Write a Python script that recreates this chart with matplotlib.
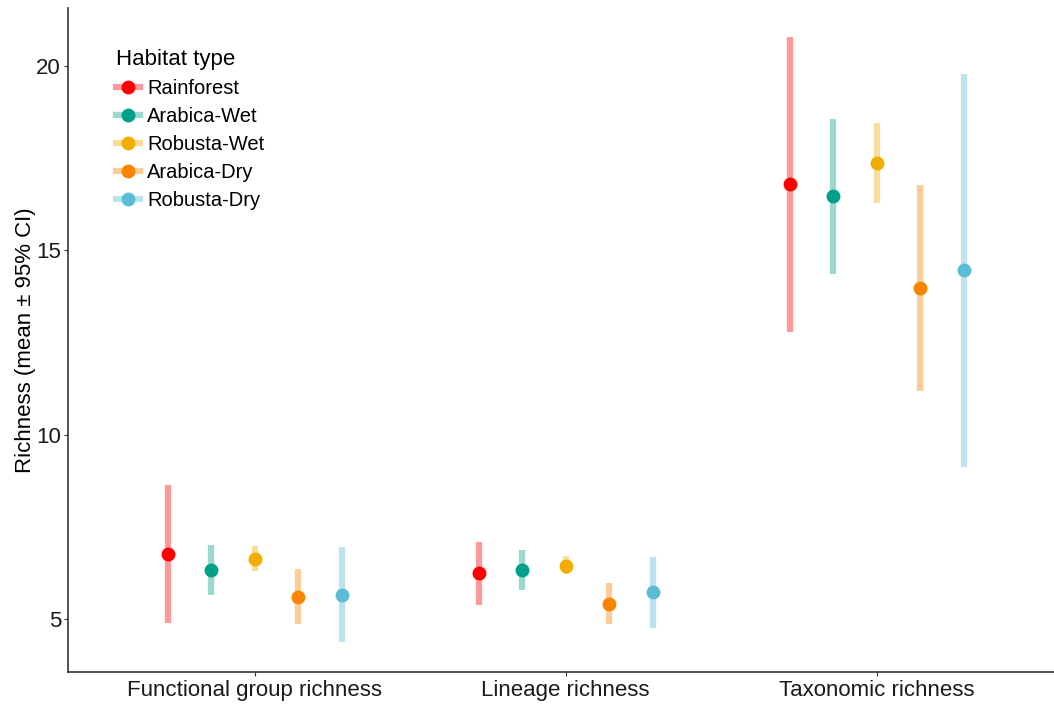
import numpy as np
import matplotlib
matplotlib.use("Agg")
import matplotlib.pyplot as plt
from matplotlib.lines import Line2D

plt.rcParams['font.family'] = ['Liberation Sans', 'DejaVu Sans']

metrics = ["Functional group richness", "Lineage richness", "Taxonomic richness"]
habitats = ["Rainforest", "Arabica-Wet", "Robusta-Wet", "Arabica-Dry", "Robusta-Dry"]
colors = ["#FF0000", "#00A08A", "#F2AD00", "#F98400", "#5BBCD6"]

# mean, lower and upper 95% CI per habitat, one entry per metric
rainforest_mean = [6.76, 6.24, 16.80]
rainforest_lo = [4.88, 5.38, 12.79]
rainforest_hi = [8.64, 7.08, 20.80]

arabica_wet_mean = [6.33, 6.33, 16.47]
arabica_wet_lo = [5.65, 5.79, 14.37]
arabica_wet_hi = [7.00, 6.86, 18.57]

robusta_wet_mean = [6.64, 6.45, 17.38]
robusta_wet_lo = [6.30, 6.21, 16.30]
robusta_wet_hi = [6.98, 6.70, 18.47]

arabica_dry_mean = [5.60, 5.41, 13.98]
arabica_dry_lo = [4.86, 4.86, 11.18]
arabica_dry_hi = [6.35, 5.97, 16.79]

robusta_dry_mean = [5.66, 5.73, 14.46]
robusta_dry_lo = [4.38, 4.76, 9.13]
robusta_dry_hi = [6.96, 6.69, 19.78]

means = [rainforest_mean, arabica_wet_mean, robusta_wet_mean, arabica_dry_mean, robusta_dry_mean]
lows = [rainforest_lo, arabica_wet_lo, robusta_wet_lo, arabica_dry_lo, robusta_dry_lo]
highs = [rainforest_hi, arabica_wet_hi, robusta_wet_hi, arabica_dry_hi, robusta_dry_hi]

fig = plt.figure(figsize=(10.54, 7.04), dpi=100)
ax = fig.add_axes([68 / 1054, 32 / 704, 1 - 68 / 1054, (704 - 32 - 8) / 704])

x = np.arange(1, len(metrics) + 1)
dodge = 0.14
handles = []
for i, hab in enumerate(habitats):
    xi = x + (i - 2) * dodge
    ax.vlines(xi, lows[i], highs[i], color=colors[i], alpha=0.4, lw=4.5, zorder=2)
    ax.plot(xi, means[i], 'o', color=colors[i], ms=10, mec='none', zorder=3)
    handles.append((Line2D([], [], color=colors[i], alpha=0.4, lw=4.5),
                    Line2D([], [], marker='o', ls='', color=colors[i], ms=10, mec='none')))

ax.set_xlim(0.4, 3.57)
ax.set_ylim(3.56, 21.58)
ax.set_xticks(x)
ax.set_xticklabels(metrics, fontsize=16, color='#1a1a1a')
ax.set_yticks([5, 10, 15, 20])
ax.tick_params(axis='y', labelsize=16, labelcolor='#1a1a1a', length=3, color='#333333', pad=2)
ax.tick_params(axis='x', length=3, color='#333333', pad=3)
ax.set_ylabel("Richness (mean ± 95% CI)", fontsize=16, labelpad=0)

for side in ['top', 'right']:
    ax.spines[side].set_visible(False)
for side in ['left', 'bottom']:
    ax.spines[side].set_color('#333333')
    ax.spines[side].set_linewidth(1.2)

leg = ax.legend(handles, habitats, title="Habitat type", loc='upper left',
                bbox_to_anchor=(0.032, 0.962), frameon=False, fontsize=14.5,
                title_fontsize=16, handlelength=1.2, handletextpad=0.35,
                labelspacing=0.44, borderpad=0.3)
leg._legend_box.align = "left"

fig.savefig("out.png", dpi=100)
